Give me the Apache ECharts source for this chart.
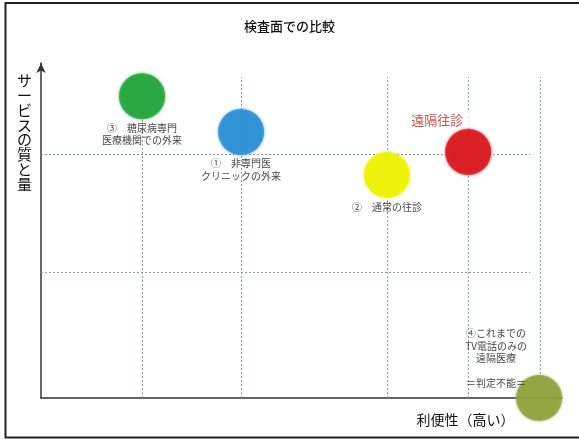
<!DOCTYPE html>
<html><head><meta charset="utf-8">
<script src="https://cdn.jsdelivr.net/npm/echarts@6/dist/echarts.min.js"></script>
<style>html,body{margin:0;padding:0;background:#fff}#c{width:579px;height:439px}</style>
</head><body><div id="c"></div>
<script>
// Data (arbitrary 0-100 units on both axes)
const names = ['③　糖尿病専門\n医療機関での外来', '①　非専門医\nクリニックの外来', '②　通常の往診', '遠隔往診', '④これまでの\nTV電話のみの\n遠隔医療\n\n＝判定不能＝'];
const convenience = [19.4, 38.4, 66.4, 82.0, 95.6];   // x: 利便性
const quality = [90.1, 79.4, 66.6, 73.4, 0];           // y: サービスの質と量
const colors = ['#22a53b', '#2b8fd6', '#eef200', '#d8181d', '#8fa33b'];
const guideX = [19.4, 38.4, 66.4, 82.0, 95.8];
const guideY = [72.8, 37.6];
const guideTop = 95.8, guideRight = 93.9;

const labelCfg = [
  {position:'bottom', distance:3, fontSize:10, lineHeight:12, color:'#111'},
  {position:'bottom', distance:2, fontSize:10, lineHeight:13, color:'#111'},
  {position:'bottom', distance:3, fontSize:10, lineHeight:12, color:'#111'},
  {position:'top', distance:2, fontSize:13, lineHeight:15, color:'#c8261e', offset:[-29,0], backgroundColor:'#fff', padding:[2,6,0,2]},
  {position:'top', distance:-14, fontSize:10, lineHeight:12.3, color:'#111', offset:[-43,0]}
];

const points = convenience.map((x,i)=>({
  value:[x, quality[i]],
  itemStyle:{color:colors[i], shadowColor:colors[i], shadowBlur:3},
  label:Object.assign({show:true, formatter:names[i], align:'center', fontFamily:'Noto Sans CJK JP'}, labelCfg[i])
}));

const lines = [];
guideX.forEach(x=>lines.push([{coord:[x,0]},{coord:[x,guideTop]}]));
guideY.forEach(y=>lines.push([{coord:[0,y]},{coord:[guideRight,y]}]));

const chart = echarts.init(document.getElementById('c'));
chart.setOption({
  animation:false,
  title:{text:'検査面での比較', left:'center', top:15, textStyle:{fontSize:13, fontWeight:500, color:'#111', fontFamily:'Noto Sans CJK JP'}},
  grid:{left:41, right:17, top:63, bottom:41},
  xAxis:{type:'value', min:0, max:100,
    axisLine:{show:true, lineStyle:{color:'#333', width:1.5}},
    axisTick:{show:false}, axisLabel:{show:false}, splitLine:{show:false},
    name:'利便性（高い）', nameLocation:'middle', nameGap:15,
    nameTextStyle:{fontSize:14, color:'#111', fontFamily:'Noto Sans CJK JP', padding:[0,0,0,328]}},
  yAxis:{type:'value', min:0, max:100,
    axisLine:{show:true, symbol:['none','arrow'], symbolSize:[7,10], lineStyle:{color:'#333', width:1.5}},
    axisTick:{show:false}, axisLabel:{show:false}, splitLine:{show:false},
    name:'サ\nー\nビ\nス\nの\n質\nと\n量', nameLocation:'end', nameGap:-10,
    nameTextStyle:{fontSize:15, lineHeight:14.8, color:'#111', align:'right', verticalAlign:'top', padding:[0,9,0,0], fontFamily:'Noto Sans CJK JP'}},
  graphic:[{type:'rect', shape:{x:5.5, y:3, width:600, height:434.5}, style:{fill:'none', stroke:'#222', lineWidth:2}, silent:true, z:-1}],
  series:[{
    type:'scatter', symbol:'circle', symbolSize:46, clip:false,
    data:points,
    markLine:{silent:true, symbol:['none','none'], label:{show:false},
      lineStyle:{type:[2,2], color:'#8a9fb5', width:1}, z:1, data:lines},
    z:5
  }]
});
</script></body></html>
